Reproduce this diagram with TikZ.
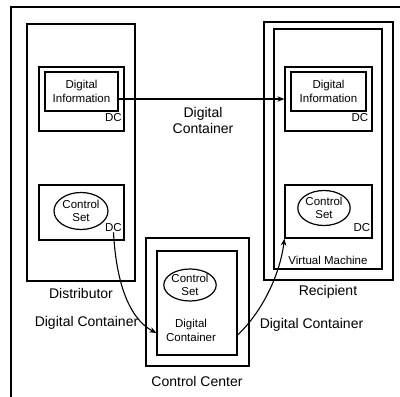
\documentclass[tikz,border=0pt]{standalone}
\usepackage{fontspec}
\setmainfont{Liberation Sans}
\usetikzlibrary{arrows.meta,shapes.geometric}

\begin{document}
\begin{tikzpicture}[x=1pt,y=-1pt,
  box/.style={draw, rectangle, line width=1.2pt, inner sep=0pt},
  oval/.style={draw, ellipse, line width=1.2pt, inner sep=0pt, align=center,
    font=\fontsize{11.5}{13.5}\selectfont},
  small/.style={font=\fontsize{11.5}{14.5}\selectfont, align=center, inner sep=0pt},
  big/.style={font=\fontsize{14}{16}\selectfont, align=center, inner sep=0pt},
  flow/.style={line width=1.1pt, -{Stealth[length=7pt,width=5.5pt]}}]

\clip (0,0) rectangle (400,397);

% enclosing frame (only its top and left sides fall inside the page)
\draw[line width=1.4pt] (11,420) -- (11,7) -- (420,7);

% ---------- Distributor ----------
\node[box, minimum width=108pt, minimum height=257pt] (dist) at (81,152.5) {};
\node[box, minimum width=85pt, minimum height=64pt] (ddc) at (81.5,99) {};
\node[box, small, minimum width=73pt, minimum height=39pt] (ddi) at (81.5,91.5) {Digital\\Information};
\node[small] (ddclab) at (113.5,118) {DC};
\node[box, minimum width=85pt, minimum height=55pt] (dcs) at (81.5,212.5) {};
\node[oval, minimum width=54pt, minimum height=37pt] (dset) at (81,211) {Control\\Set};
\node[small] (dcslab) at (113.5,228) {DC};
\node[big] (distlab) at (81,293) {Distributor};

% ---------- Control Center ----------
\node[box, minimum width=103pt, minimum height=128pt] (cc) at (197.5,302) {};
\node[box, minimum width=80pt, minimum height=104pt] (ccin) at (197,303) {};
\node[oval, minimum width=51pt, minimum height=32pt] (cset) at (190,285) {Control\\Set};
\node[small] (cdc) at (191,330.5) {Digital\\Container};
\node[big] (cclab) at (197,381) {Control Center};

% ---------- Recipient ----------
\node[box, minimum width=129pt, minimum height=258pt] (rec) at (328.5,151) {};
\node[box, minimum width=108pt, minimum height=240pt] (vm) at (328,149) {};
\node[box, minimum width=87pt, minimum height=64pt] (rdc) at (328.5,99) {};
\node[box, small, minimum width=75pt, minimum height=39pt] (rdi) at (328.5,91.5) {Digital\\Information};
\node[small] (rdclab) at (360,118) {DC};
\node[box, minimum width=87pt, minimum height=53pt] (rcs) at (328.5,211.5) {};
\node[oval, minimum width=45pt, minimum height=35pt] (rset) at (324,208) {Control\\Set};
\node[small] (rcslab) at (362,228) {DC};
\node[small] (vmlab) at (328,260) {Virtual Machine};
\node[big] (reclab) at (328,292) {Recipient};

% ---------- transfer labels ----------
\node[big] (toplab) at (203,120) {Digital\\Container};
\node[big] (leftlab) at (86.5,323) {Digital Container};
\node[big] (rightlab) at (311.5,325) {Digital Container};

% ---------- transfers ----------
\coordinate (hstart) at ([yshift=-7.5pt]ddi.east);
\coordinate (ccleft) at ([yshift=-30pt]ccin.west);
\coordinate (ccright) at ([yshift=-32pt]ccin.east);
\draw[flow] (hstart) -- (rdc.west |- hstart);
\draw[flow] (dcslab.south) .. controls (116,280) and (128,318) .. (ccleft);
\draw[flow] (ccright) .. controls (262,312) and (280,275) .. (rcs.south west);

\end{tikzpicture}
\end{document}
